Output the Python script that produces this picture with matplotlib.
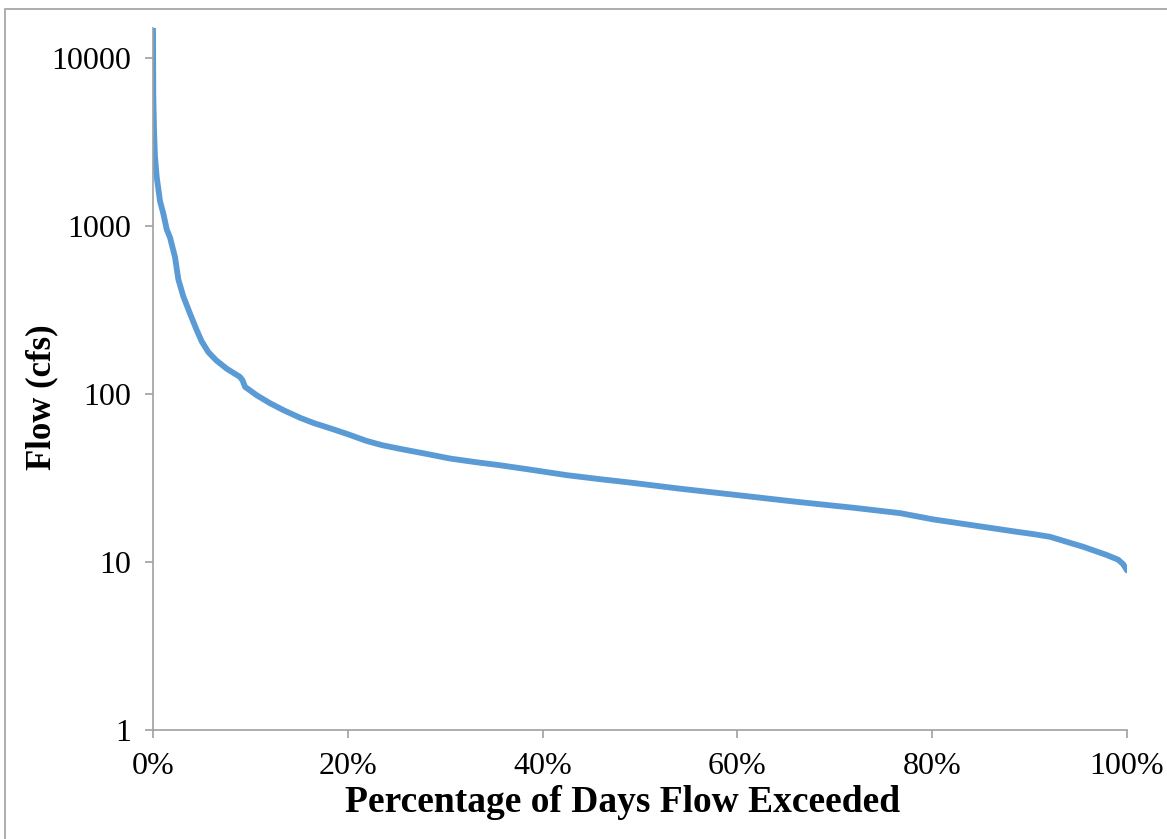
#!/usr/bin/env python3
"""Flow duration curve: percentage of days a flow is exceeded, log flow axis."""

import matplotlib

matplotlib.use("Agg")

import matplotlib.pyplot as plt
from matplotlib.patches import Rectangle
from matplotlib.ticker import NullLocator, PercentFormatter

# percent of days exceeded
PCT_EXCEEDED = [
    0, 0.03, 0.1, 0.2, 0.38, 0.72, 1.06, 1.41, 1.75, 2.26, 2.6, 3.11, 3.8,
    4.49, 5.0, 5.68, 6.5, 7.57, 8.93, 9.2, 9.45, 10.65, 12.0, 13.38, 15.1,
    16.5, 18.5, 20.0, 21.9, 23.5, 25.4, 28.0, 30.5, 33.0, 35.6, 39.0, 42.5,
    46.0, 49.3, 54.0, 59.9, 66.0, 71.9, 76.7, 80.1, 83.9, 88.7, 90.5, 92.1,
    95.5, 97.9, 99.1, 99.6, 100,
]
# flow in cfs
FLOW_CFS = [
    15000, 6000, 3800, 2600, 1950, 1400, 1180, 950, 850, 650, 480, 380, 300,
    239, 205, 177, 158, 141, 126, 120, 110, 98, 88, 80, 72,
    67, 61.5, 57.5, 52.5, 49.5, 47, 44, 41.2, 39.3, 37.6, 35.2, 32.8,
    31.0, 29.5, 27.3, 25.0, 22.8, 21.0, 19.5, 17.9, 16.6, 15.1, 14.6, 14.1,
    12.3, 11.0, 10.3, 9.7, 8.9,
]

Y_TICKS = [1, 10, 100, 1000, 10000]
Y_TICK_LABELS = ["1", "10", "100", "1000", "10000"]
X_TICKS = [0, 20, 40, 60, 80, 100]

LINE_COLOR = "#5B9BD5"
AXIS_COLOR = "#A0A0A0"
W, H = 1167, 839

plt.rcParams["font.family"] = ["Liberation Serif", "DejaVu Serif"]

fig = plt.figure(figsize=(W / 100, H / 100), dpi=100)
ax = fig.add_axes([153 / W, 1 - 730 / H, (1127 - 153) / W, (730 - 28) / H])

ax.plot(PCT_EXCEEDED, FLOW_CFS, color=LINE_COLOR, linewidth=4.2,
        solid_capstyle="round", solid_joinstyle="round")

ax.set_yscale("log")
ax.set_ylim(1, 15000)
ax.set_xlim(0, 100)
ax.set_yticks(Y_TICKS, Y_TICK_LABELS)
ax.yaxis.set_minor_locator(NullLocator())
ax.set_xticks(X_TICKS)
ax.xaxis.set_major_formatter(PercentFormatter(100, decimals=0))

for side in ("top", "right"):
    ax.spines[side].set_visible(False)
for side in ("left", "bottom"):
    ax.spines[side].set_color(AXIS_COLOR)
    ax.spines[side].set_linewidth(1.2)
ax.tick_params(axis="both", direction="out", length=6, width=1.2,
               color=AXIS_COLOR, labelsize=23, pad=10)

fig.text(623 / W, 1 - 803 / H, "Percentage of Days Flow Exceeded",
         ha="center", va="center", fontsize=27, fontweight="bold")
fig.text(42 / W, 1 - 397 / H, "Flow (cfs)", ha="center", va="center",
         rotation=90, fontsize=25, fontweight="bold")

# chart-area frame (only top and left edges fall inside the image)
fig.add_artist(Rectangle((5 / W, -0.1), 1.2, 1.1 - 9 / H,
                         transform=fig.transFigure, fill=False,
                         edgecolor=AXIS_COLOR, linewidth=1.2))

fig.savefig("out.png", dpi=100)
